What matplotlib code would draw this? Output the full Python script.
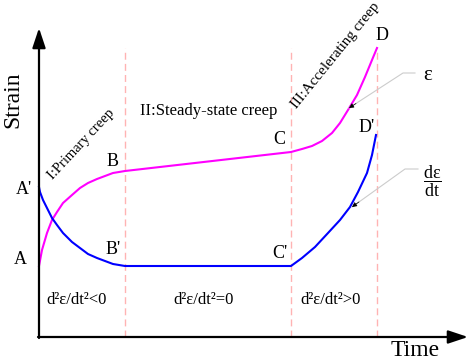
import matplotlib
matplotlib.use('Agg')
import matplotlib.pyplot as plt

plt.rcParams['font.family'] = ['Liberation Serif', 'DejaVu Serif']
plt.rcParams['mathtext.fontset'] = 'custom'
plt.rcParams['mathtext.rm'] = 'Liberation Serif'
plt.rcParams['mathtext.it'] = 'Liberation Serif:italic'

# strain curve (epsilon)
eps_t = [0, 3, 8, 13, 18, 24, 33, 41, 49, 58, 66, 74, 86,
         252, 263, 273, 283, 293, 301, 309, 318, 326, 333, 338]
eps_v = [71, 87, 104, 117, 125, 134, 142, 149, 154, 158, 161, 164, 166,
         185, 188, 191, 196, 204, 214, 227, 242, 260, 277, 289]

# strain rate curve (d eps / dt)
rate_t = [0, 1, 4, 8, 13, 18, 24, 33, 41, 49, 58, 66, 74, 86,
          252, 263, 276, 289, 301, 311, 319, 328, 333, 337]
rate_v = [150, 145, 137, 129, 119, 112, 104, 95, 89, 83, 79, 76, 73, 71,
          71, 79, 90, 104, 117, 130, 145, 164, 182, 202]

# stage boundaries
stage_t = [86, 252, 338]
stage_top = 289

point_labels = ["A", "A'", "B", "B'", "C", "C'", "D", "D'"]
point_pos = [(-19, 78), (-15, 148), (74, 176), (74, 87),
             (240, 198), (241, 83), (343, 301), (328, 209)]

fig = plt.figure(figsize=(4.7, 3.62), dpi=100)
ax = fig.add_axes([0, 0, 1, 1])
ax.set_xlim(-39, 431)
ax.set_ylim(-25, 337)
ax.axis('off')

# dashed stage lines
for t in stage_t:
    ax.plot([t, t], [0, stage_top], color='#ffb3b3', lw=1, dashes=(5, 3))

# curves
ax.plot(eps_t, eps_v, color='#ff00ff', lw=1.5)
ax.plot(rate_t, rate_v, color='#0000ff', lw=1.5)

# axes with arrows
ax.annotate('', xy=(0, 309), xytext=(0, -1),
            arrowprops=dict(arrowstyle='-|>,head_length=0.6,head_width=0.2',
                            mutation_scale=20, lw=1.6, color='k',
                            shrinkA=0, shrinkB=0))
ax.annotate('', xy=(429, 0), xytext=(-1, 0),
            arrowprops=dict(arrowstyle='-|>,head_length=0.6,head_width=0.2',
                            mutation_scale=20, lw=1.6, color='k',
                            shrinkA=0, shrinkB=0))

ax.text(-26, 237, 'Strain', rotation=90, fontsize=17, ha='center', va='center')
ax.text(376, -14, 'Time', fontsize=17, ha='center', va='center')

for lab, (x, y) in zip(point_labels, point_pos):
    ax.text(x, y, lab, fontsize=13, ha='center', va='center')

# stage names
ax.text(42, 193, 'I:Primary creep', rotation=47, fontsize=10.5,
        ha='center', va='center', rotation_mode='anchor')
ax.text(170, 226, 'II:Steady-state creep', fontsize=12, ha='center', va='center')
ax.text(297, 281, 'III:Accelerating creep', rotation=51, fontsize=10.8,
        ha='center', va='center', rotation_mode='anchor')

ax.text(38, 37, 'd²ε/dt²<0', fontsize=12, ha='center', va='center')
ax.text(165, 37, 'd²ε/dt²=0', fontsize=12, ha='center', va='center')
ax.text(292, 37, 'd²ε/dt²>0', fontsize=12, ha='center', va='center')

# leader lines to the curve names
ax.plot([376, 364, 310], [264, 264, 229], color='#cccccc', lw=0.8)
ax.annotate('', xy=(310, 229), xytext=(317, 233.5),
            arrowprops=dict(arrowstyle='-|>', color='k', lw=0.5,
                            mutation_scale=7, shrinkA=0, shrinkB=0))
ax.text(389, 262, 'ε', fontsize=15, ha='center', va='center')

ax.plot([379, 366, 313], [168, 168, 130], color='#cccccc', lw=0.8)
ax.annotate('', xy=(313, 130), xytext=(320, 135.1),
            arrowprops=dict(arrowstyle='-|>', color='k', lw=0.5,
                            mutation_scale=7, shrinkA=0, shrinkB=0))
ax.text(393, 156, r'$\mathrm{\dfrac{d\varepsilon}{dt}}$', fontsize=13,
        ha='center', va='center')

fig.savefig('out.png', dpi=100)
